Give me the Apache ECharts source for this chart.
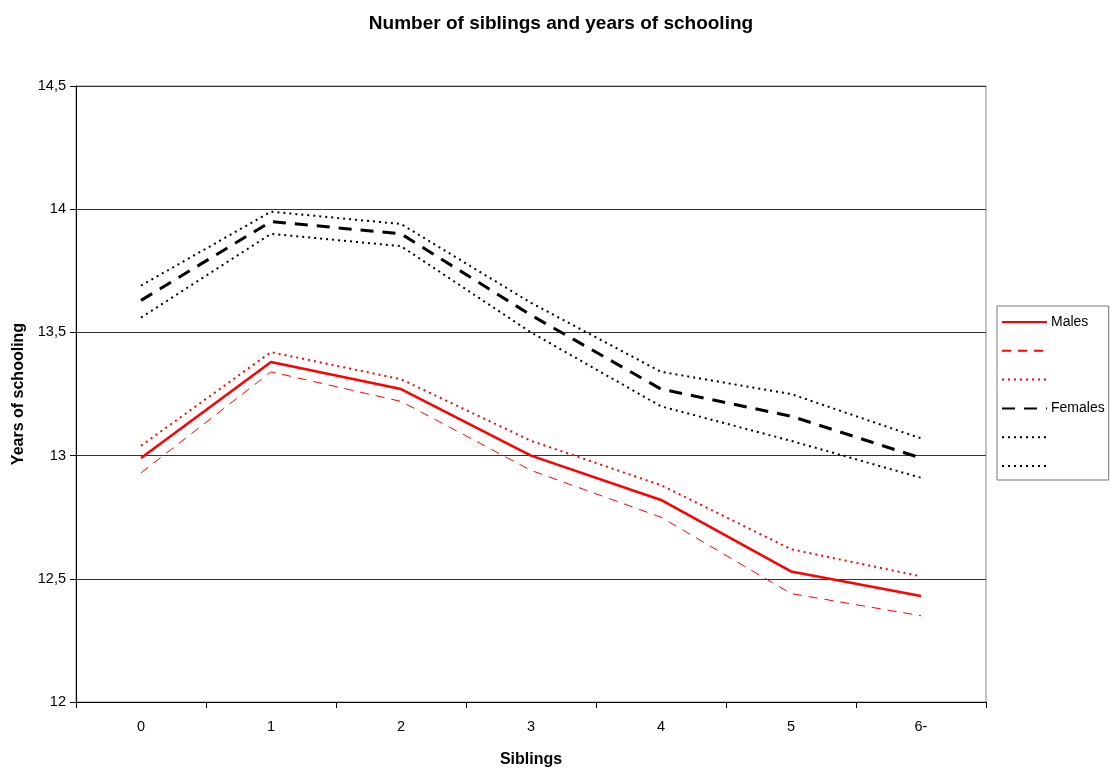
<!DOCTYPE html>
<html>
<head>
<meta charset="utf-8">
<script src="https://cdn.jsdelivr.net/npm/echarts@6/dist/echarts.min.js"></script>
<style>html,body{margin:0;padding:0;background:#fff;}#c{width:1112px;height:774px;}</style>
</head>
<body>
<div id="c"></div>
<script>
var categories = ['0', '1', '2', '3', '4', '5', '6-'];
var malesMean  = [12.99, 13.38, 13.27, 13.00, 12.82, 12.53, 12.43];
var malesLow   = [12.93, 13.34, 13.22, 12.94, 12.75, 12.44, 12.35];
var malesHigh  = [13.04, 13.42, 13.31, 13.06, 12.88, 12.62, 12.51];
var femMean    = [13.63, 13.95, 13.90, 13.57, 13.27, 13.16, 12.99];
var femHigh    = [13.69, 13.99, 13.94, 13.62, 13.34, 13.25, 13.07];
var femLow     = [13.56, 13.90, 13.85, 13.50, 13.20, 13.06, 12.91];
var yTicks = [12, 12.5, 13, 13.5, 14, 14.5];

var FONT = 'Liberation Sans, Arial, sans-serif';
function mk(name, data, color, width, type) {
  return {
    name: name, type: 'line', data: data, symbol: 'none', showSymbol: false, smooth: false,
    lineStyle: { color: color, width: width, type: type },
    itemStyle: { color: color },
    z: 3
  };
}
var chart = echarts.init(document.getElementById('c'));
chart.setOption({
  animation: false,
  backgroundColor: '#fff',
  title: {
    text: 'Number of siblings and years of schooling',
    left: 556, textAlign: 'center', top: 9,
    textStyle: { fontFamily: FONT, fontSize: 19, fontWeight: 'bold', color: '#000' }
  },
  grid: { left: 76, right: 126, top: 86, bottom: 72, show: true, borderColor: '#888', borderWidth: 1 },
  legend: {
    orient: 'vertical', left: 997, top: 306,
    width: 113,
    padding: [9, 4, 7, 4],
    itemWidth: 45, itemHeight: 14, itemGap: 14.8,
    borderColor: '#777', borderWidth: 1,
    itemStyle: { opacity: 0 },
    textStyle: { fontFamily: FONT, fontSize: 14, color: '#000', padding: [0, 0, 0, -1] },
    data: ['Males', ' ', '  ', 'Females', '   ', '    ']
  },
  xAxis: {
    type: 'category', data: categories, boundaryGap: true,
    name: 'Siblings', nameLocation: 'middle', nameGap: 50,
    nameTextStyle: { fontFamily: FONT, fontSize: 16, fontWeight: 'bold', color: '#000' },
    axisLine: { lineStyle: { color: '#000', width: 1 } },
    axisTick: { show: true, length: 6, lineStyle: { color: '#000' } },
    axisLabel: { fontFamily: FONT, fontSize: 14.5, color: '#000', margin: 17 },
    splitLine: { show: false }
  },
  yAxis: {
    type: 'value', min: 12, max: 14.5, interval: 0.5,
    name: 'Years of schooling', nameLocation: 'middle', nameGap: 47, nameRotate: 90,
    nameTextStyle: { fontFamily: FONT, fontSize: 16, fontWeight: 'bold', color: '#000' },
    axisLine: { show: true, lineStyle: { color: '#000', width: 1 } },
    axisTick: { show: true, length: 6, inside: false, lineStyle: { color: '#000' } },
    axisLabel: {
      fontFamily: FONT, fontSize: 14.5, color: '#000', margin: 10,
      formatter: function (v) { return String(v).replace('.', ','); }
    },
    splitLine: { show: true, lineStyle: { color: '#333', width: 1 } }
  },
  series: [
    mk('Males', malesMean, '#ff0000', 2.5, 'solid'),
    mk(' ', malesLow, '#ff0000', 1, [9, 7]),
    mk('  ', malesHigh, '#ff0000', 2, [2, 4]),
    mk('Females', femMean, '#000000', 3, [13, 9]),
    mk('   ', femHigh, '#000000', 2, [2, 4]),
    mk('    ', femLow, '#000000', 2, [2, 4])
  ]
});
</script>
</body>
</html>
